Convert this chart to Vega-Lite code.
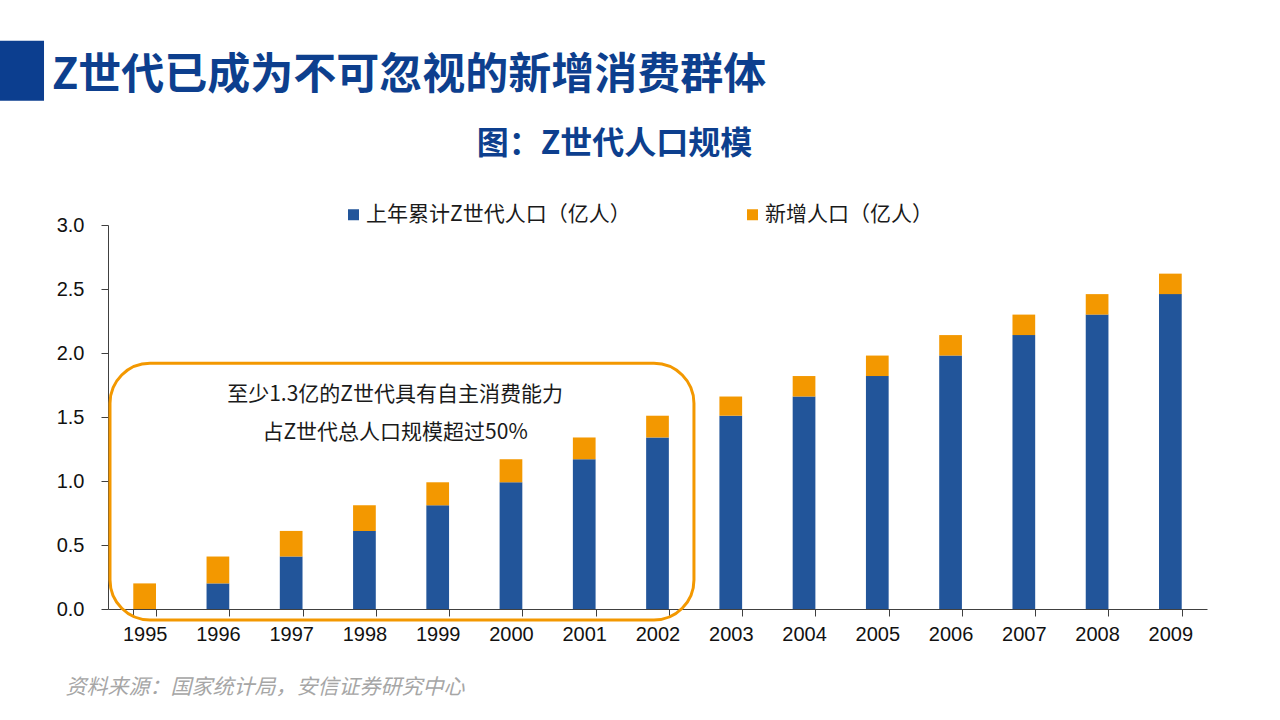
{
  "$schema": "https://vega.github.io/schema/vega-lite/v6.json",
  "width": 1099,
  "height": 384,
  "autosize": {"type": "none"},
  "padding": {"left": 108, "top": 225, "right": 73, "bottom": 111},
  "background": "white",
  "title": {
    "text": "Z世代已成为不可忽视的新增消费群体",
    "anchor": "start",
    "frame": "group",
    "dx": -56,
    "dy": 78,
    "offset": 0,
    "baseline": "middle",
    "font": "Noto Sans CJK SC",
    "fontSize": 43,
    "fontWeight": "bold",
    "color": "#0d3f8e"
  },
  "config": {
    "view": {"stroke": null},
    "axis": {"grid": false}
  },
  "layer": [
    {
      "data": {
        "values": [
          {"year": "1995", "series": "上年累计Z世代人口（亿人）", "value": 0},
          {"year": "1995", "series": "新增人口（亿人）", "value": 0.20},
          {"year": "1996", "series": "上年累计Z世代人口（亿人）", "value": 0.20},
          {"year": "1996", "series": "新增人口（亿人）", "value": 0.21},
          {"year": "1997", "series": "上年累计Z世代人口（亿人）", "value": 0.41},
          {"year": "1997", "series": "新增人口（亿人）", "value": 0.20},
          {"year": "1998", "series": "上年累计Z世代人口（亿人）", "value": 0.61},
          {"year": "1998", "series": "新增人口（亿人）", "value": 0.20},
          {"year": "1999", "series": "上年累计Z世代人口（亿人）", "value": 0.81},
          {"year": "1999", "series": "新增人口（亿人）", "value": 0.18},
          {"year": "2000", "series": "上年累计Z世代人口（亿人）", "value": 0.99},
          {"year": "2000", "series": "新增人口（亿人）", "value": 0.18},
          {"year": "2001", "series": "上年累计Z世代人口（亿人）", "value": 1.17},
          {"year": "2001", "series": "新增人口（亿人）", "value": 0.17},
          {"year": "2002", "series": "上年累计Z世代人口（亿人）", "value": 1.34},
          {"year": "2002", "series": "新增人口（亿人）", "value": 0.17},
          {"year": "2003", "series": "上年累计Z世代人口（亿人）", "value": 1.51},
          {"year": "2003", "series": "新增人口（亿人）", "value": 0.15},
          {"year": "2004", "series": "上年累计Z世代人口（亿人）", "value": 1.66},
          {"year": "2004", "series": "新增人口（亿人）", "value": 0.16},
          {"year": "2005", "series": "上年累计Z世代人口（亿人）", "value": 1.82},
          {"year": "2005", "series": "新增人口（亿人）", "value": 0.16},
          {"year": "2006", "series": "上年累计Z世代人口（亿人）", "value": 1.98},
          {"year": "2006", "series": "新增人口（亿人）", "value": 0.16},
          {"year": "2007", "series": "上年累计Z世代人口（亿人）", "value": 2.14},
          {"year": "2007", "series": "新增人口（亿人）", "value": 0.16},
          {"year": "2008", "series": "上年累计Z世代人口（亿人）", "value": 2.30},
          {"year": "2008", "series": "新增人口（亿人）", "value": 0.16},
          {"year": "2009", "series": "上年累计Z世代人口（亿人）", "value": 2.46},
          {"year": "2009", "series": "新增人口（亿人）", "value": 0.16}
        ]
      },
      "mark": {"type": "bar"},
      "encoding": {
        "x": {
          "field": "year",
          "type": "nominal",
          "title": "资料来源：国家统计局，安信证券研究中心",
          "scale": {"paddingInner": 0.69, "paddingOuter": 0.345},
          "axis": {
            "labelAngle": 0,
            "labelFont": "Liberation Sans",
            "labelFontSize": 20,
            "labelColor": "#111111",
            "labelPadding": 8,
            "tickBand": "extent",
            "tickSize": 7,
            "tickColor": "#404040",
            "domainColor": "#404040",
            "titleX": -43,
            "titleY": 78,
            "titleAlign": "left",
            "titleBaseline": "middle",
            "titleFont": "Noto Sans CJK SC",
            "titleFontSize": 21,
            "titleFontStyle": "italic",
            "titleFontWeight": "normal",
            "titleColor": "#a6a6a6"
          }
        },
        "y": {
          "field": "value",
          "type": "quantitative",
          "stack": "zero",
          "title": "图：Z世代人口规模",
          "scale": {"domain": [0, 3], "nice": false},
          "axis": {
            "values": [0, 0.5, 1, 1.5, 2, 2.5, 3],
            "format": ".1f",
            "labelFont": "Liberation Sans",
            "labelFontSize": 20,
            "labelColor": "#111111",
            "labelPadding": 17,
            "tickSize": 7,
            "tickColor": "#404040",
            "domainColor": "#404040",
            "titleAngle": 0,
            "titleX": 506,
            "titleY": -82,
            "titleAlign": "center",
            "titleBaseline": "middle",
            "titleFont": "Noto Sans CJK SC",
            "titleFontSize": 32,
            "titleFontWeight": "bold",
            "titleColor": "#0d3f8e"
          }
        },
        "color": {
          "field": "series",
          "type": "nominal",
          "scale": {
            "domain": ["上年累计Z世代人口（亿人）", "新增人口（亿人）"],
            "range": ["#22559a", "#f39800"]
          },
          "legend": {
            "orient": "none",
            "legendX": 235,
            "legendY": -21,
            "direction": "horizontal",
            "columns": 2,
            "title": null,
            "padding": 0,
            "symbolType": "square",
            "symbolSize": 121,
            "symbolStrokeWidth": 0,
            "labelFont": "Noto Sans CJK SC",
            "labelFontSize": 21,
            "labelColor": "#1a1a1a",
            "labelOffset": 2,
            "labelLimit": 400,
            "columnPadding": 111
          }
        },
        "order": {"field": "series", "sort": "ascending"}
      }
    },
    {
      "data": {"values": [{"from": "1995", "to": "2002", "hi": 1.92, "lo": -0.086}]},
      "mark": {"type": "rect", "fill": "transparent", "stroke": "#f39800", "strokeWidth": 3, "cornerRadius": 40},
      "encoding": {
        "x": {"field": "from", "type": "nominal", "bandPosition": -1.025, "title": "资料来源：国家统计局，安信证券研究中心"},
        "x2": {"field": "to", "bandPosition": 2.105},
        "y": {"field": "hi", "type": "quantitative", "title": "图：Z世代人口规模"},
        "y2": {"field": "lo"}
      }
    },
    {
      "data": {"values": [{}]},
      "mark": {"type": "rect", "color": "#0c3e8f"},
      "encoding": {
        "x": {"datum": "1995", "type": "nominal", "bandPosition": -5.87},
        "x2": {"datum": "1995", "bandPosition": -3.93},
        "y": {"datum": 4.44, "type": "quantitative"},
        "y2": {"datum": 3.97}
      }
    },
    {
      "data": {
        "values": [
          {"t": "至少1.3亿的Z世代具有自主消费能力", "xk": "1998", "yv": 1.672},
          {"t": "占Z世代总人口规模超过50%", "xk": "1998", "yv": 1.375}
        ]
      },
      "mark": {"type": "text", "font": "Noto Sans CJK SC", "fontSize": 21, "color": "#1a1a1a", "align": "center", "baseline": "middle"},
      "encoding": {
        "x": {"field": "xk", "type": "nominal", "bandPosition": 1.85, "title": "资料来源：国家统计局，安信证券研究中心"},
        "y": {"field": "yv", "type": "quantitative", "title": "图：Z世代人口规模"},
        "text": {"field": "t"}
      }
    }
  ]
}
